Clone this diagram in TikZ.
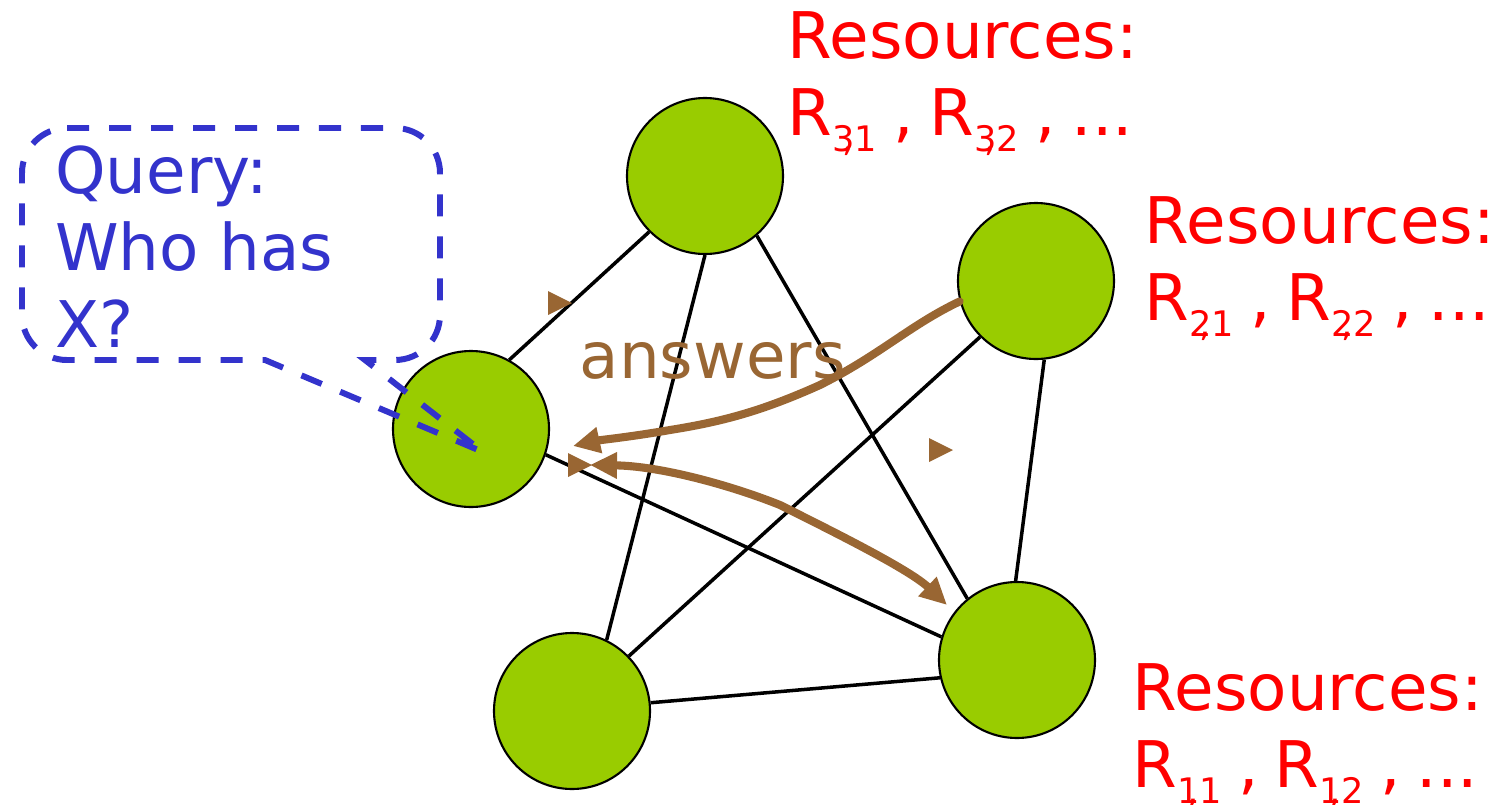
\documentclass[tikz,border=0pt]{standalone}
\usepackage{fontspec}
\setmainfont{DejaVu Sans}
\usepackage{tikz}
\usetikzlibrary{arrows.meta}
\usetikzlibrary{calc}
\usetikzlibrary{positioning}
\definecolor{peergreen}{HTML}{99CC00}
\definecolor{queryblue}{HTML}{3333CC}
\definecolor{answerbrown}{HTML}{996633}
\newcommand{\listfont}{\fontsize{18.3}{21.9}\selectfont\spaceskip=0.25em\relax}
\newcommand{\rsub}[2]{\raisebox{-0.25em}{\fontsize{10}{10}\selectfont #1\llap{,\kern0.02em}#2}}
\tikzstyle{peer} = [draw, fill=peergreen, circle, line width=0.6pt,
    minimum size=1.56cm, inner sep=0pt]
\tikzstyle{link} = [draw, line width=1pt]
\tikzstyle{restext} = [text=red, align=left, anchor=base west, inner sep=0pt,
    font=\fontsize{18.3}{21.9}\selectfont]
\tikzstyle{reslist} = [restext, font=\listfont]
\tikzstyle{answer} = [draw=answerbrown, line width=2.3pt, line cap=round]
\tikzstyle{query} = [draw=queryblue, line width=1.7pt, dash pattern=on 0.22cm off 0.2cm]

\begin{document}
\begin{tikzpicture}
    \useasboundingbox (0,0) rectangle (15.03,-8.05);
    % peers
    \node [peer] at (7.05,-1.76) (p3) {};
    \node [peer] at (10.36,-2.81) (p2) {};
    \node [peer] at (4.71,-4.29) (p0) {};
    \node [peer] at (5.72,-7.11) (p4) {};
    \node [peer] at (10.17,-6.60) (p1) {};
    % overlay links
    \draw [link] (p0.61) -- (p3.225);
    \draw [link] (p3.270) -- (p4.64);
    \draw [link] (p3.311) -- (p1.129);
    \draw [link] (p2.225) -- (p4.44);
    \draw [link] (p2.276) -- (p1.91);
    \draw [link] (p0.341) -- (p1.163);
    \draw [link] (p4.6) -- (p1.193);
    % resource lists (base = last line)
    \node [reslist] at (7.87,-1.35) (res3) {Resources:\\R\rsub{3}{1} , R\rsub{3}{2} , ...};
    \node [reslist] at (11.44,-3.20) (res2) {Resources:\\R\rsub{2}{1} , R\rsub{2}{2} , ...};
    \node [reslist] at (11.32,-7.87) (res1) {Resources:\\R\rsub{1}{1} , R\rsub{1}{2} , ...};
    % the query bubble
    \node [restext, text=queryblue] at (0.545,-3.47) (ask) {Query:\\Who has\\X?};
    \draw [query] (0.67,-1.28) -- (3.95,-1.28) arc [start angle=90, end angle=0, radius=0.45]
        -- (4.40,-3.15) arc [start angle=0, end angle=-90, radius=0.45]
        -- (3.65,-3.60) -- (4.83,-4.52) -- (2.65,-3.60) -- (0.67,-3.60)
        arc [start angle=270, end angle=180, radius=0.45]
        -- (0.22,-1.73) arc [start angle=180, end angle=90, radius=0.45] -- cycle;
    % answers
    \node [restext, text=answerbrown] at (5.79,-3.78) (ans) {answers};
    \coordinate (hit1) at (5.73,-4.46);
    \coordinate (hit2) at (5.90,-4.65);
    \coordinate (hit3) at (9.47,-6.05);
    \draw [answer, -{Triangle[length=0.27cm,width=0.25cm]}] (p2.195)
        .. controls (9.1,-3.25) and (8.8,-3.55) .. (8.2,-3.85)
        .. controls (7.6,-4.12) and (7.2,-4.22) .. (6.7,-4.3)
        .. controls (6.3,-4.37) and (6.0,-4.4) .. (hit1);
    \draw [answer, {Triangle[length=0.27cm,width=0.25cm]}-{Triangle[length=0.27cm,width=0.25cm]}] (hit2)
        .. controls (6.6,-4.66) and (7.3,-4.85) .. (7.8,-5.05)
        .. controls (8.4,-5.35) and (9.1,-5.7) .. (hit3);
    \foreach \tx/\ty in {5.72/-3.03, 9.53/-4.50, 5.92/-4.65}
        \fill [answerbrown] (\tx,\ty) -- ++(-0.24,0.12) -- ++(0,-0.24) -- cycle;
\end{tikzpicture}
\end{document}
